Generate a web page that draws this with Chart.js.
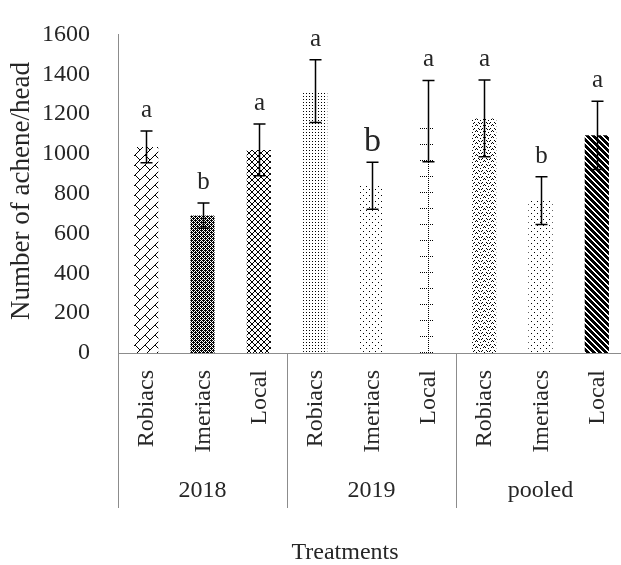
<!DOCTYPE html>
<html>
<head>
<meta charset="utf-8">
<script src="https://cdn.jsdelivr.net/npm/chart.js@4.4.1/dist/chart.umd.min.js"></script>
<style>
  html, body { margin: 0; padding: 0; background: #fff; overflow: hidden; }
  #wrap { width: 630px; height: 565px; position: relative; }
</style>
</head>
<body>
<div id="wrap"><canvas id="c" width="630" height="565"></canvas></div>
<script>
// Achene number per head by cultivar and season
const years = ['2018', '2019', 'pooled'];
const cultivars = ['Robiacs', 'Imeriacs', 'Local'];
const achenes = [1035, 690, 1020, 1315, 840, 1165, 1178, 765, 1093];
const errors = [80, 63, 130, 158, 118, 204, 193, 120, 171];
const letters = ['a', 'b', 'a', 'a', 'b', 'a', 'a', 'b', 'a'];
const yTicks = [0, 200, 400, 600, 800, 1000, 1200, 1400, 1600];

const categories = [];
years.forEach(y => cultivars.forEach(c => categories.push(y + ' ' + c)));

const SERIF = '"Liberation Serif", "Times New Roman", serif';
const TEXT = '#262626';
const AXIS = '#8c8c8c';

// ---- fill patterns built from small pixel tiles ----
const ctx0 = document.getElementById('c').getContext('2d');
function pat(w, h, paint) {
  const cv = document.createElement('canvas');
  cv.width = w; cv.height = h;
  const g = cv.getContext('2d');
  g.fillStyle = '#fff'; g.fillRect(0, 0, w, h);
  g.fillStyle = '#000';
  const px = (x, y) => g.fillRect(((x % w) + w) % w, ((y % h) + h) % h, 1, 1);
  paint(px);
  return ctx0.createPattern(cv, 'repeat');
}

const patterns = [
  // diagonal brick
  pat(10, 10, px => {
    for (let i = 0; i < 10; i++) px(i, 9 - i);
    for (let i = 0; i < 5; i++) px(5 + i, 5 + i);
  }),
  // dark dotted fill
  pat(4, 4, px => {
    for (let y = 0; y < 4; y++) for (let x = 0; x < 4; x++) {
      if ((x + y) % 2 === 0) px(x, y);
    }
    px(1, 2); px(3, 0);
  }),
  // small diagonal crosshatch
  pat(6, 6, px => {
    for (let i = 0; i < 6; i++) { px(i, i); px(i, 5 - i); }
  }),
  // dense dot grid
  pat(3, 3, px => { px(0, 0); }),
  // sparse diamond-lattice dots
  pat(6, 6, px => { px(0, 0); px(3, 3); }),
  // dotted grid
  pat(24, 16, px => {
    for (let y = 0; y < 16; y += 2) px(20, y);
    [12, 14, 16, 18, 22, 0].forEach(x => px(x, 0));
  }),
  // dotted chevrons
  pat(8, 6, px => {
    px(0, 0); px(2, 2); px(4, 4); px(6, 2);
    px(1, 3); px(3, 5); px(5, 5); px(7, 3);
  }),
  // sparse diamond-lattice dots
  pat(6, 6, px => { px(0, 0); px(3, 3); }),
  // wide dark diagonal stripes
  pat(6, 6, px => {
    for (let i = 0; i < 6; i++) { px(i, i); px(i + 1, i); px(i + 2, i); px(i + 3, i); }
  })
];

// ---- overlay: error bars, letters, two-level category axis, titles ----
const overlay = {
  id: 'overlay',
  afterDatasetsDraw(chart) {
    const { ctx, chartArea } = chart;
    const xs = chart.scales.x, ys = chart.scales.y;
    const meta = chart.getDatasetMeta(0);
    ctx.save();

    // error bars and significance letters
    meta.data.forEach((bar, i) => {
      const x = Math.round(bar.x) + 0.5;
      const top = ys.getPixelForValue(achenes[i] + errors[i]);
      const bot = ys.getPixelForValue(achenes[i] - errors[i]);
      ctx.strokeStyle = '#000';
      ctx.lineWidth = 1.5;
      ctx.beginPath();
      ctx.moveTo(x, top); ctx.lineTo(x, bot);
      ctx.moveTo(x - 6, top); ctx.lineTo(x + 6, top);
      ctx.moveTo(x - 6, bot); ctx.lineTo(x + 6, bot);
      ctx.stroke();

      const big = (i === 4);
      ctx.fillStyle = TEXT;
      ctx.font = (big ? 34 : 25) + 'px ' + SERIF;
      ctx.textAlign = 'center';
      ctx.textBaseline = 'alphabetic';
      ctx.fillText(letters[i], x, top - (big ? 11 : 14));
    });

    // cultivar labels (rotated)
    ctx.fillStyle = TEXT;
    ctx.font = '24px ' + SERIF;
    meta.data.forEach((bar, i) => {
      ctx.save();
      ctx.translate(bar.x, chartArea.bottom + 17);
      ctx.rotate(-Math.PI / 2);
      ctx.textAlign = 'right';
      ctx.textBaseline = 'middle';
      ctx.fillText(cultivars[i % 3], 0, 1);
      ctx.restore();
    });

    // group separators and year labels
    const step = xs.getPixelForValue(1) - xs.getPixelForValue(0);
    ctx.strokeStyle = AXIS;
    ctx.lineWidth = 1;
    for (let g = 0; g <= years.length; g++) {
      const gx = Math.round(xs.getPixelForValue(g * 3) - step / 2) + 0.5;
      ctx.beginPath();
      ctx.moveTo(gx, chartArea.bottom);
      ctx.lineTo(gx, 508);
      ctx.stroke();
    }
    ctx.textAlign = 'center';
    ctx.textBaseline = 'middle';
    years.forEach((y, g) => {
      const cx = xs.getPixelForValue(g * 3 + 1);
      ctx.fillText(y, cx, 491);
    });

    // axis titles
    ctx.fillText('Treatments', 345, 553);
    ctx.save();
    ctx.font = '27px ' + SERIF;
    ctx.translate(22, 191);
    ctx.rotate(-Math.PI / 2);
    ctx.fillText('Number of achene/head', 0, 0);
    ctx.restore();

    ctx.restore();
  }
};

new Chart(document.getElementById('c'), {
  type: 'bar',
  data: {
    labels: categories,
    datasets: [{
      data: achenes,
      backgroundColor: patterns,
      borderWidth: 0,
      barPercentage: 0.43,
      categoryPercentage: 1.0
    }]
  },
  options: {
    responsive: false,
    animation: false,
    devicePixelRatio: 1,
    layout: { padding: { top: 20, right: 5, left: 0, bottom: 0 } },
    plugins: { legend: { display: false }, tooltip: { enabled: false } },
    scales: {
      x: {
        type: 'category',
        grid: { display: false },
        border: { display: true, color: AXIS, width: 1 },
        ticks: { display: false },
        afterFit(s) { s.height = 212; }
      },
      y: {
        min: 0,
        max: 1600,
        afterBuildTicks(s) { s.ticks = yTicks.map(v => ({ value: v })); },
        ticks: {
          color: TEXT,
          padding: 20,
          font: { family: SERIF, size: 24 },
          callback: v => String(v)
        },
        grid: { display: false },
        border: { display: true, color: AXIS, width: 1 },
        afterFit(s) { s.width = 118; }
      }
    }
  },
  plugins: [overlay]
});
</script>
</body>
</html>
